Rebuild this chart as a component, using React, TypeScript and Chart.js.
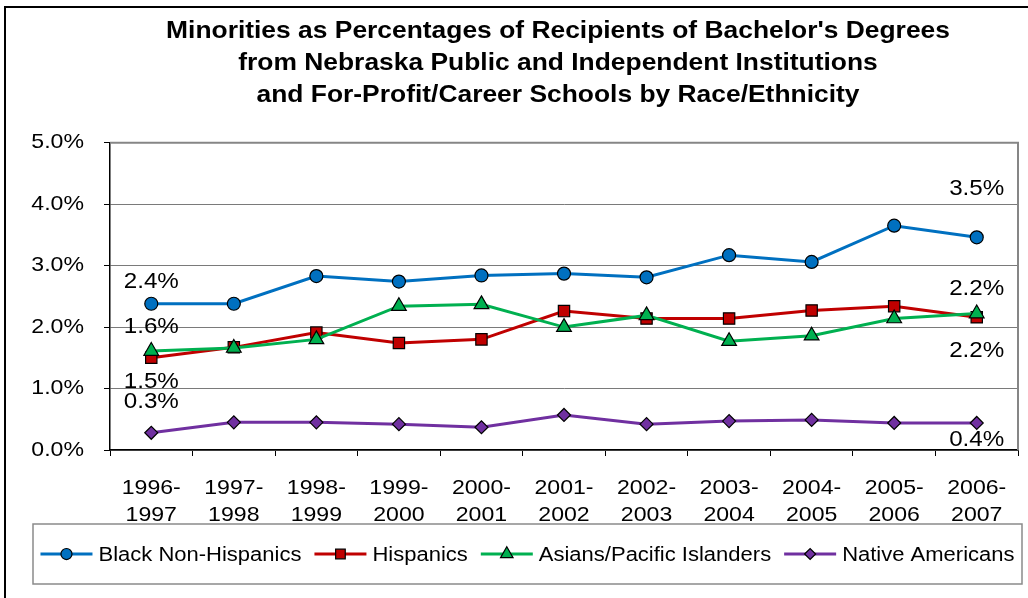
import React, { useEffect, useRef } from 'react';
import { Chart, registerables } from 'chart.js';

Chart.register(...registerables);

const categories: string[][] = [
  ['1996-', '1997'], ['1997-', '1998'], ['1998-', '1999'], ['1999-', '2000'],
  ['2000-', '2001'], ['2001-', '2002'], ['2002-', '2003'], ['2003-', '2004'],
  ['2004-', '2005'], ['2005-', '2006'], ['2006-', '2007'],
];

const blackNonHispanics = [2.38, 2.38, 2.83, 2.74, 2.84, 2.87, 2.81, 3.17, 3.06, 3.65, 3.46];
const hispanics = [1.50, 1.67, 1.91, 1.74, 1.80, 2.26, 2.14, 2.14, 2.27, 2.34, 2.16];
const asiansPacificIslanders = [1.61, 1.66, 1.80, 2.34, 2.37, 2.00, 2.19, 1.77, 1.86, 2.14, 2.22];
const nativeAmericans = [0.28, 0.45, 0.45, 0.42, 0.37, 0.57, 0.42, 0.47, 0.49, 0.44, 0.44];

const seriesNames = ['Black Non-Hispanics', 'Hispanics', 'Asians/Pacific Islanders', 'Native Americans'];
const yMin = 0;
const yMax = 5;
const yStep = 1;

const titleLines = [
  "Minorities as Percentages of Recipients of Bachelor's Degrees",
  'from Nebraska Public and Independent Institutions',
  'and For-Profit/Career Schools by Race/Ethnicity',
];

// styles
const colors = ['#0070C0', '#C00000', '#00B050', '#7030A0'];
const pointStyles = ['circle', 'rect', 'triangle', 'rectRot'];
const pointRadii = [6.5, 8, 8.5, 6.5];
// vertical offsets (px) of first / last data labels relative to their points
const labelOffsets = [[-22, -48], [24, -28], [-24, 37], [-31, 17]];
const FONT = '"Liberation Sans", Arial, sans-serif';
const SX = 1.1; // horizontal text stretch
const X_LINE_H = 26.6;

function stretchText(ctx: CanvasRenderingContext2D, t: string, x: number, y: number, align: CanvasTextAlign) {
  ctx.save();
  ctx.translate(x, y);
  ctx.scale(SX, 1);
  ctx.textAlign = align;
  ctx.fillText(t, 0, 0);
  ctx.restore();
}

function drawMarker(ctx: CanvasRenderingContext2D, style: string, x: number, y: number, r: number, fill: string) {
  ctx.save();
  ctx.beginPath();
  if (style === 'circle') {
    ctx.arc(x, y, r, 0, Math.PI * 2);
  } else if (style === 'rect') {
    const s = r * Math.SQRT1_2;
    ctx.rect(x - s, y - s, 2 * s, 2 * s);
  } else if (style === 'triangle') {
    for (let k = 0; k < 3; k++) {
      const a = (k * 2 * Math.PI) / 3;
      const px = x + Math.sin(a) * r;
      const py = y - Math.cos(a) * r;
      if (k === 0) ctx.moveTo(px, py); else ctx.lineTo(px, py);
    }
    ctx.closePath();
  } else {
    ctx.moveTo(x - r, y);
    ctx.lineTo(x, y - r);
    ctx.lineTo(x + r, y);
    ctx.lineTo(x, y + r);
    ctx.closePath();
  }
  ctx.fillStyle = fill;
  ctx.fill();
  ctx.strokeStyle = '#000';
  ctx.lineWidth = 1.2;
  ctx.stroke();
  ctx.restore();
}

const decorPlugin = {
  id: 'decor',
  beforeDraw(chart: any) {
    const ctx = chart.ctx as CanvasRenderingContext2D;
    ctx.save();
    ctx.fillStyle = '#fff';
    ctx.fillRect(0, 0, chart.width, chart.height);
    ctx.restore();
  },
  beforeDatasetsDraw(chart: any) {
    const ctx = chart.ctx as CanvasRenderingContext2D;
    const a = chart.chartArea;
    ctx.save();
    ctx.strokeStyle = '#868686';
    ctx.lineWidth = 2;
    ctx.beginPath();
    ctx.moveTo(a.left, a.top);
    ctx.lineTo(a.right, a.top);
    ctx.lineTo(a.right, a.bottom);
    ctx.stroke();
    ctx.restore();
  },
  afterDatasetsDraw(chart: any) {
    const ctx = chart.ctx as CanvasRenderingContext2D;
    ctx.save();
    ctx.font = `22px ${FONT}`;
    ctx.fillStyle = '#000';
    ctx.textBaseline = 'middle';
    chart.data.datasets.forEach((ds: any, i: number) => {
      const pts = chart.getDatasetMeta(i).data;
      const idx = [0, pts.length - 1];
      idx.forEach((j, k) => {
        const p = pts[j];
        const v = ds.data[j] as number;
        stretchText(ctx, v.toFixed(1) + '%', p.x, p.y + labelOffsets[i][k], 'center');
      });
    });
    ctx.restore();
  },
  afterDraw(chart: any) {
    const ctx = chart.ctx as CanvasRenderingContext2D;
    ctx.save();
    ctx.fillStyle = '#000';
    ctx.textBaseline = 'middle';

    // axis tick labels (positions from the library's scales)
    ctx.font = `21px ${FONT}`;
    const ys = chart.scales.y;
    ys.ticks.forEach((t: any) => {
      stretchText(ctx, Number(t.value).toFixed(1) + '%', ys.right - 6 - 20, ys.getPixelForValue(t.value), 'right');
    });
    const xs = chart.scales.x;
    xs.ticks.forEach((_t: any, i: number) => {
      const lbl = chart.data.labels[i] as string[];
      const px = xs.getPixelForTick(i);
      lbl.forEach((line, k) => {
        stretchText(ctx, line, px, xs.top + 6 + 19 + X_LINE_H / 2 + k * X_LINE_H, 'center');
      });
    });

    // title
    ctx.font = `bold 24px ${FONT}`;
    const titleY = [31, 63, 95];
    titleLines.forEach((t, i) => stretchText(ctx, t, 558, titleY[i], 'center'));

    // legend box
    const bx = 33, by = 524, bw = 989, bh = 60;
    ctx.fillStyle = '#fff';
    ctx.fillRect(bx, by, bw, bh);
    ctx.strokeStyle = '#8a8a8a';
    ctx.lineWidth = 1.5;
    ctx.strokeRect(bx, by, bw, bh);
    ctx.font = `20px ${FONT}`;
    const lineLen = 52, gapText = 6, gapItem = 13;
    const widths = seriesNames.map((n) => ctx.measureText(n).width * SX);
    const total = widths.reduce((s, w) => s + w, 0) + seriesNames.length * (lineLen + gapText) + (seriesNames.length - 1) * gapItem;
    let x = bx + bw / 2 - total / 2;
    const ly = by + bh / 2;
    seriesNames.forEach((n, i) => {
      ctx.strokeStyle = colors[i];
      ctx.lineWidth = 3;
      ctx.beginPath();
      ctx.moveTo(x, ly);
      ctx.lineTo(x + lineLen, ly);
      ctx.stroke();
      drawMarker(ctx, pointStyles[i], x + lineLen / 2, ly, pointRadii[i] * 0.85, colors[i]);
      x += lineLen + gapText;
      ctx.fillStyle = '#000';
      stretchText(ctx, n, x, ly + 1, 'left');
      x += widths[i] + gapItem;
    });

    // outer frame
    ctx.fillStyle = '#000';
    ctx.fillRect(4, 6, 2, chart.height);
    ctx.fillRect(4, 6, chart.width, 2);
    ctx.restore();
  },
};

export default function App() {
  const ref = useRef<HTMLCanvasElement>(null);
  useEffect(() => {
    if (!ref.current) return;
    const seriesData = [blackNonHispanics, hispanics, asiansPacificIslanders, nativeAmericans];
    const chart = new Chart(ref.current, {
      type: 'line',
      data: {
        labels: categories,
        datasets: seriesData.map((d, i) => ({
          label: seriesNames[i],
          data: d,
          borderColor: colors[i],
          backgroundColor: colors[i],
          borderWidth: 3,
          fill: false,
          tension: 0,
          pointStyle: pointStyles[i] as any,
          pointRadius: pointRadii[i],
          pointBackgroundColor: colors[i],
          pointBorderColor: '#000',
          pointBorderWidth: 1.2,
          order: 4 - i,
        })),
      },
      options: {
        animation: false,
        responsive: false,
        maintainAspectRatio: false,
        devicePixelRatio: 1,
        layout: { padding: { top: 142.7, right: 10, left: 0, bottom: 0 } },
        plugins: {
          legend: { display: false },
          title: { display: false },
          tooltip: { enabled: false },
        },
        scales: {
          x: {
            type: 'category',
            offset: true,
            grid: {
              display: true,
              drawOnChartArea: false,
              drawTicks: true,
              tickLength: 6,
              tickColor: '#000',
              offset: true,
            },
            border: { display: true, color: '#000', width: 1.5 },
            ticks: { display: false, autoSkip: false, maxRotation: 0 },
            afterFit: (s: any) => { s.height = 148; },
          },
          y: {
            min: yMin,
            max: yMax,
            ticks: { stepSize: yStep, display: false },
            grid: { color: '#7a7a7a', lineWidth: 1, tickLength: 6, tickColor: '#000' },
            border: { display: true, color: '#000', width: 1.5 },
            afterFit: (s: any) => { s.width = 110; },
          },
        },
      },
      plugins: [decorPlugin],
    });
    return () => chart.destroy();
  }, []);
  return (
    <div style={{ position: 'fixed', left: 0, top: 0, width: 1028, height: 598 }}>
      <canvas ref={ref} width={1028} height={598} style={{ display: 'block' }} />
    </div>
  );
}
